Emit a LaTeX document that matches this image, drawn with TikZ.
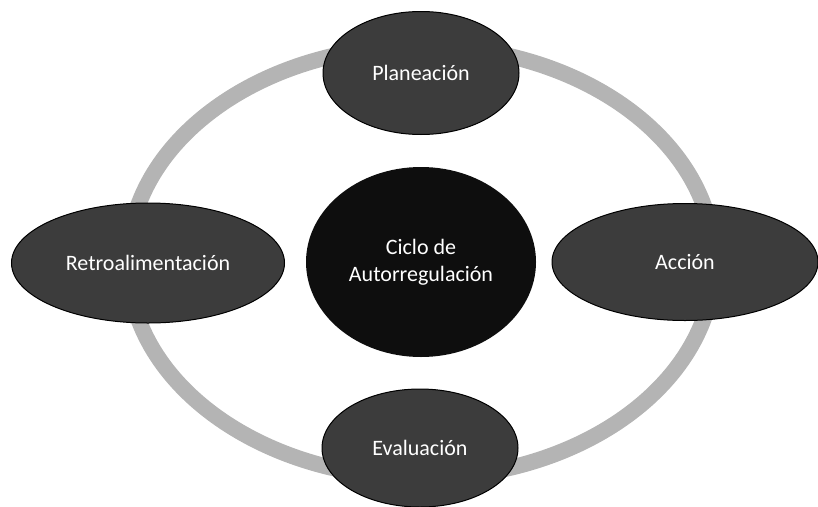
\documentclass[tikz,border=0pt]{standalone}
\usepackage{fontspec}
\setmainfont{Carlito}
\usetikzlibrary{shapes.geometric}
\definecolor{ringgray}{RGB}{180,180,180}
\definecolor{stagefill}{RGB}{60,60,60}
\definecolor{corefill}{RGB}{14,14,14}
\tikzset{
  stage/.style={ellipse, fill=stagefill, draw=black, line width=1pt, inner sep=0pt,
    text=white, font=\fontsize{22}{27}\selectfont},
  core/.style={ellipse, fill=corefill, inner sep=0pt, text=white, align=center,
    font=\fontsize{22}{27}\selectfont},
  ring/.style={draw=ringgray, line width=16pt}
}
\begin{document}
\begin{tikzpicture}[x=1pt,y=-1pt]
  \useasboundingbox (0,0) rectangle (818,506);
  \clip (0,0) rectangle (818,506);
  % ring joining the four stages, around the hub centre
  \coordinate (mid) at (421,262);
  \draw[ring] (mid) ellipse [x radius=293, y radius=216];
  % central hub of the cycle
  \node[core, minimum width=230pt, minimum height=190pt] (hub) at (mid)
    {Ciclo de\\Autorregulación};
  % stages of the cycle
  \node[stage, minimum width=196pt, minimum height=123pt] (plan) at (421,73) {Planeación};
  \node[stage, minimum width=266pt, minimum height=117pt] (accion) at (685,262) {Acción};
  \node[stage, minimum width=196pt, minimum height=118pt] (eval) at (420,448) {Evaluación};
  \node[stage, minimum width=273pt, minimum height=120pt] (retro) at (148,263) {Retroalimentación};
\end{tikzpicture}
\end{document}
